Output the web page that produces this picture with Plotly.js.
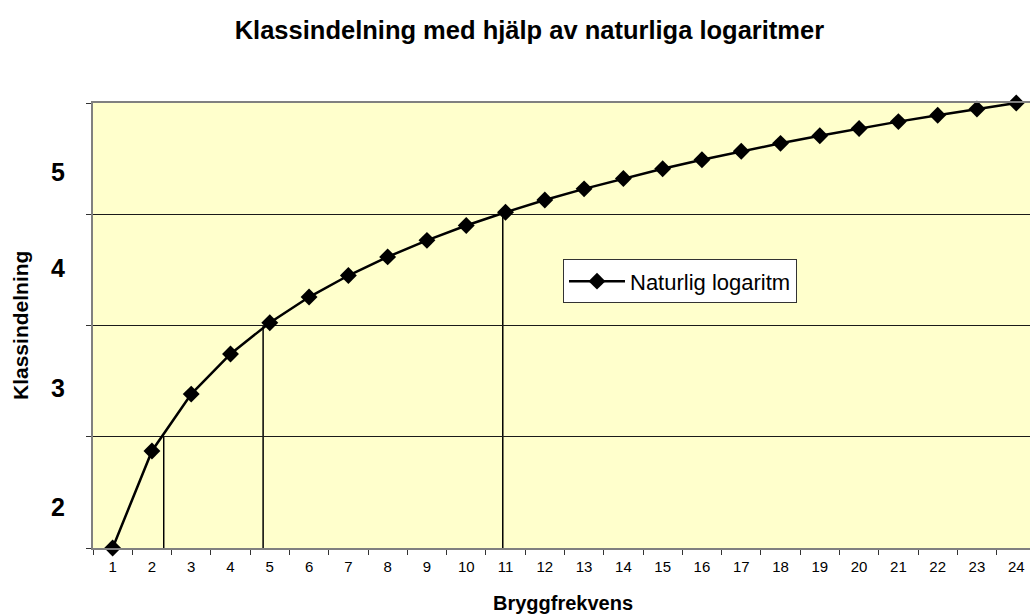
<!DOCTYPE html>
<html>
<head>
<meta charset="utf-8">
<script src="https://cdn.plot.ly/plotly-3.0.1.min.js"></script>
<style>
  html, body { margin: 0; padding: 0; background: #ffffff; overflow: hidden; }
  #chart { width: 1030px; height: 615px; }
</style>
</head>
<body>
<div id="chart"></div>
<script>
// Data
const frequencies = ['1','2','3','4','5','6','7','8','9','10','11','12','13','14','15','16','17','18','19','20','21','22','23','24'];
const lnValues = [0, 0.693, 1.099, 1.386, 1.609, 1.792, 1.946, 2.079, 2.197, 2.303, 2.398, 2.485, 2.565, 2.639, 2.708, 2.773, 2.833, 2.890, 2.944, 2.996, 3.045, 3.091, 3.135, 3.178];
const gridLevels = [0, 0.7945, 1.589, 2.384, 3.178];
const classLabels = ['2', '3', '4', '5'];
const classLabelLevels = [0.292, 1.141, 1.997, 2.682];
const boundaryX = [2.30, 4.83, 10.93];       // Bryggfrekvens where the drop lines stand
const boundaryTop = [0.7945, 1.589, 2.384];  // level each drop line reaches
const seriesName = 'Naturlig logaritm';

const FONT = 'Arial, Liberation Sans, sans-serif';

const trace = {
  x: frequencies,
  y: lnValues,
  type: 'scatter',
  mode: 'lines+markers',
  name: seriesName,
  line: { color: '#000000', width: 2.5 },
  marker: { symbol: 'diamond', size: 13, color: '#000000' },
  cliponaxis: false,
  showlegend: true
};

const shapes = boundaryX.map((bx, i) => ({
  type: 'line', xref: 'x', yref: 'y',
  x0: bx - 1, x1: bx - 1, y0: 0, y1: boundaryTop[i],
  line: { color: '#000000', width: 1.5 },
  layer: 'below'
}));

const annotations = classLabels.map((t, i) => ({
  text: t, xref: 'paper', yref: 'y', x: -0.0373, y: classLabelLevels[i],
  xanchor: 'center', yanchor: 'middle', showarrow: false,
  font: { family: FONT, size: 25, color: '#000000', weight: 'bold' }
}));
annotations.push({
  text: 'Klassindelning', xref: 'paper', yref: 'paper', x: -0.0768, y: 0.499,
  xanchor: 'center', yanchor: 'middle', textangle: -90, showarrow: false,
  font: { family: FONT, size: 21, color: '#000000', weight: 'bold' }
});
annotations.push({
  text: 'Bryggfrekvens', xref: 'paper', yref: 'paper', x: 0.5016, y: -0.1228,
  xanchor: 'center', yanchor: 'middle', showarrow: false,
  font: { family: FONT, size: 20, color: '#000000', weight: 'bold' }
});

const layout = {
  width: 1030, height: 615,
  margin: { l: 93, r: 0, t: 103, b: 67, pad: 0 },
  paper_bgcolor: '#ffffff',
  plot_bgcolor: '#ffffcc',
  font: { family: FONT, color: '#000000' },
  title: {
    text: 'Klassindelning med hjälp av naturliga logaritmer',
    x: 0.514, xanchor: 'center', y: 0.951, yanchor: 'middle',
    font: { family: FONT, size: 25.5, color: '#000000', weight: 'bold' }
  },
  xaxis: {
    type: 'category',
    range: [-0.5, 23.35],
    tickson: 'boundaries',
    ticks: 'outside', ticklen: 5, tickcolor: '#333333', tickwidth: 1,
    ticklabelstandoff: 4,
    showgrid: false, zeroline: false,
    showline: true, linecolor: '#808080', linewidth: 2, mirror: true,
    tickfont: { family: FONT, size: 15, color: '#000000' },
    fixedrange: true
  },
  yaxis: {
    range: [0, 3.178],
    tickmode: 'array', tickvals: gridLevels, ticktext: gridLevels.map(() => ''),
    ticks: 'outside', ticklen: 5, tickcolor: '#333333', tickwidth: 1,
    showgrid: true, gridcolor: '#1a1a1a', gridwidth: 1,
    zeroline: false,
    showline: true, linecolor: '#808080', linewidth: 2, mirror: false,
    fixedrange: true
  },
  legend: {
    x: 0.5016, y: 0.6486, xanchor: 'left', yanchor: 'top',
    bgcolor: '#ffffff', bordercolor: '#333333', borderwidth: 1,
    font: { family: FONT, size: 22, color: '#000000' },
    itemwidth: 56
  },
  showlegend: true,
  shapes: shapes,
  annotations: annotations
};

Plotly.newPlot('chart', [trace], layout, { displayModeBar: false, staticPlot: true });
</script>
</body>
</html>
